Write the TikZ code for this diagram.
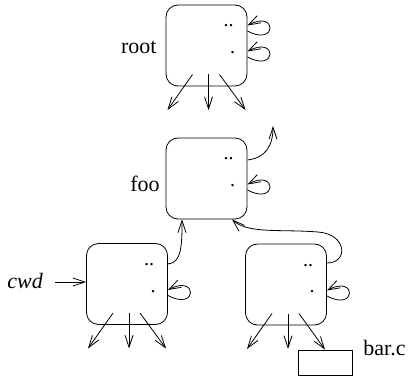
\documentclass[tikz,border=0pt]{standalone}
\usepackage{fontspec}
\setmainfont{Liberation Serif}
\usetikzlibrary{arrows.meta,calc}
\begin{document}
\begin{tikzpicture}[x=1pt,y=-1pt,line width=0.8pt,
  dirbox/.style={draw,rounded corners=12pt,minimum width=81pt,minimum height=81pt,inner sep=0pt},
  arr/.style={-{Straight Barb[length=12pt,width=8pt]}},
  lbl/.style={font=\fontsize{22}{26}\selectfont,inner sep=0pt},
  dotmark/.style={font=\fontsize{20}{24}\selectfont,inner sep=0pt,anchor=base}]
\useasboundingbox (0,0) rectangle (410,377);

% directory boxes
\node[dirbox] (root) at (206.5,45.5) {};
\node[dirbox] (foo)  at (206.5,178.5) {};
\node[dirbox] (cwd)  at (127,284) {};
\node[dirbox] (sub)  at (286,284.5) {};
\node[draw,minimum width=54pt,minimum height=25pt,inner sep=0pt] (bar) at (325,362.5) {};

% labels
\node[lbl,anchor=base east] (rootlbl) at (157,54) {root};
\node[lbl,anchor=base east] (foolbl) at (160,192) {foo};
\node[lbl,anchor=base west] (cwdlbl) at (7,288) {\itshape cwd};
\node[lbl,anchor=base west] (barlbl) at (363,355) {bar.c};

% the ".." and "." entries of every directory
\foreach \b in {root,foo,cwd,sub}{
  \node[dotmark] at ($(\b)+(22,-18.5)$) {..};
  \node[dotmark] at ($(\b)+(26,8)$) {.};
  % "." points back to the directory itself
  \draw[arr] ($(\b.east)+(0,11.5)$) .. controls +(30,16) and +(30,-16) .. ($(\b.east)+(0,6)$);
}
% ".." of root is root itself
\draw[arr] ($(root.east)+(0,-14.5)$) .. controls +(30,16) and +(30,-16) .. ($(root.east)+(0,-20)$);

% children
\foreach \b in {root,cwd,sub}{
  \draw[arr] ($(\b)+(-14,29)$) -- ($(\b)+(-39,64.5)$);
  \draw[arr] ($(\b)+(2,29)$) -- ($(\b)+(2,64.5)$);
}
\foreach \b in {root,cwd}
  \draw[arr] ($(\b)+(13,29)$) -- ($(\b)+(39,64.5)$);
\draw[arr] ($(sub)+(13,29)$) -- (bar.north);

% parent links
\coordinate (fooparent) at (273,126);
\draw[arr] ($(foo.east)+(0,-18.5)$) .. controls +(18,-2) and +(0,20) .. (fooparent);
\draw[arr] ($(cwd.east)+(0,-20)$) .. controls +(14,-1) and +(0,25) .. ($(foo.south)+(-24.5,0)$);
\draw[arr] ($(sub.east)+(0,-21.5)$) .. controls +(22,0) and (347,234) .. (318,232)
  .. controls (280,229) and (248,234) .. ($(foo.south)+(25.5,0)$);

% current directory pointer
\draw[arr] ($(cwdlbl.base east)+(12,-6)$) -- ($(cwd.west)+(0,-2)$);
\end{tikzpicture}
\end{document}
